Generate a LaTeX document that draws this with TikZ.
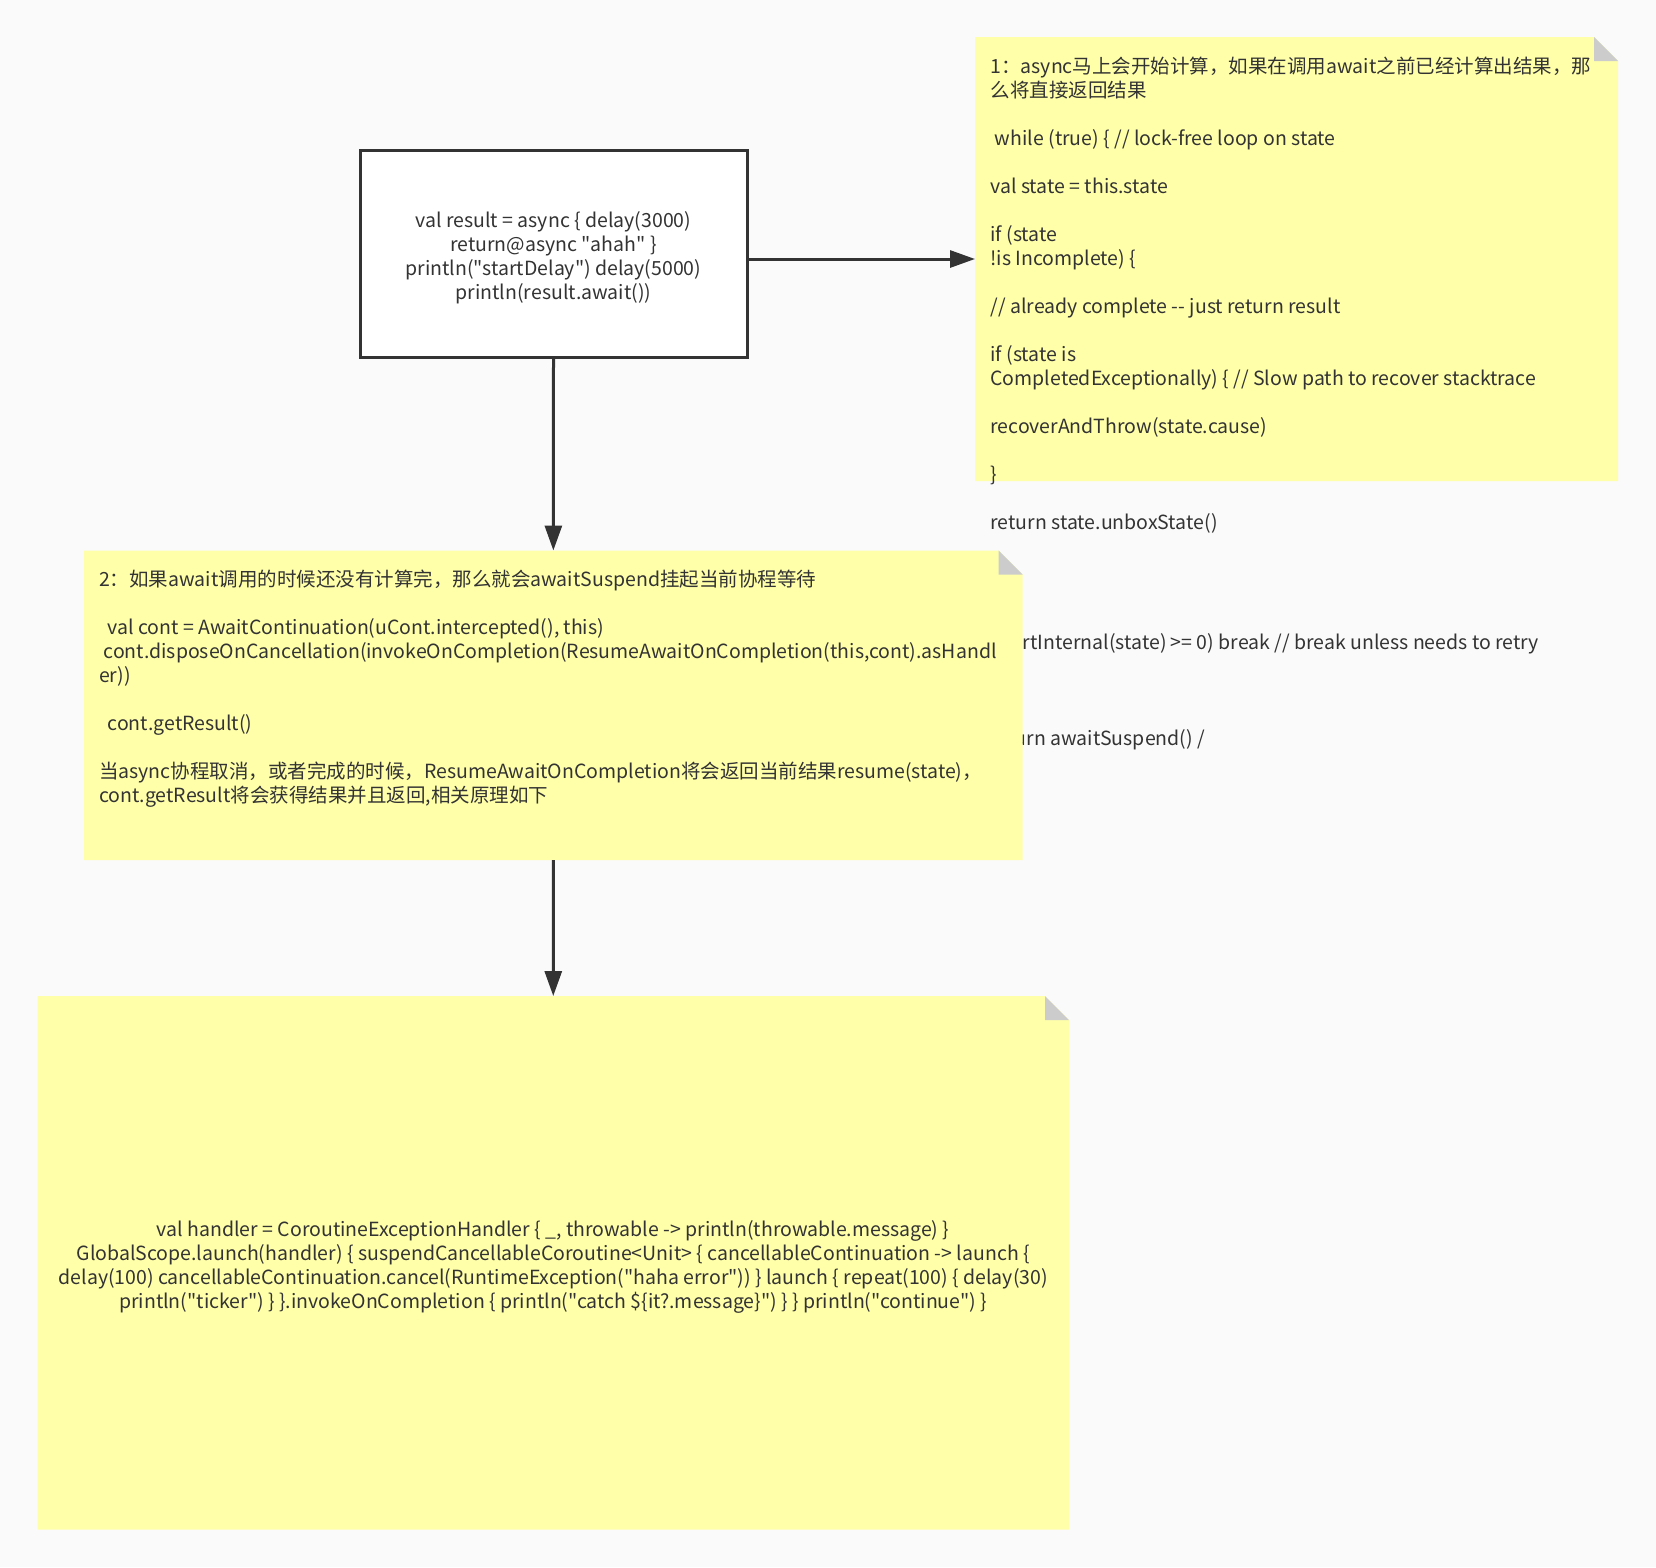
\documentclass[tikz,border=0pt]{standalone}
\usepackage{fontspec}
\newfontfamily\cnfont{Noto Sans CJK SC}
\usetikzlibrary{arrows.meta,fit}
\definecolor{bg}{HTML}{FAFAFA}
\definecolor{noteyellow}{HTML}{FFFFAA}
\definecolor{foldgray}{HTML}{CCCCCC}
\definecolor{ink}{HTML}{333333}
\begin{document}
\begin{tikzpicture}[x=1pt,y=-1pt,
  txt/.style={font=\cnfont\fontsize{19.5}{24}\selectfont, text=ink, inner sep=0pt, outer sep=0pt},
  area/.style={inner sep=0pt, outer sep=0pt},
  conn/.style={draw=ink, line width=3pt, -{Triangle[length=25pt,width=17pt]}},
  codebox/.style={draw=ink, fill=white, line width=3pt, inner sep=0pt, outer sep=0pt},
  notefill/.style={fill=noteyellow},
  foldfill/.style={fill=foldgray}]
% background / canvas
\path[fill=bg] (0,0) rectangle (1656,1567);

% areas
\node[codebox, fit={(360,150) (747,357)}] (box) {};
\node[area, fit={(975,37) (1618,481)}] (n1) {};
\node[area, fit={(84,550.5) (1022.7,860)}] (n2) {};
\node[area, fit={(37.5,996) (1069,1529.5)}] (n3) {};

% code box text
\node[txt, align=center] (boxtext) at ([yshift=-5.5pt]box.center)
  {\strut val result = async \{ delay(3000)\\
   \strut return@async "ahah" \}\\
   \strut println("startDelay") delay(5000)\\
   \strut println(result.await())};

% note 1
\fill[notefill] (n1.north west) -- ([xshift=-24pt]n1.north east) -- ([yshift=-24pt]n1.north east) -- (n1.south east) -- (n1.south west) -- cycle;
\fill[foldfill] ([xshift=-24pt]n1.north east) -- ([xshift=-24pt,yshift=-24pt]n1.north east) -- ([yshift=-24pt]n1.north east) -- cycle;
\node[txt, align=left, anchor=north west] (n1text) at (990.5,56.2)
  {\strut 1：async马上会开始计算，如果在调用await之前已经计算出结果，那\\
   \strut 么将直接返回结果\\
   \strut\\
   \strut\hspace*{4.4pt}while (true) \{ // lock-free loop on state\\
   \strut\\
   \strut val state = this.state\\
   \strut\\
   \strut if (state\\
   \strut !is Incomplete) \{\\
   \strut\\
   \strut // already complete -- just return result\\
   \strut\\
   \strut if (state is\\
   \strut CompletedExceptionally) \{ // Slow path to recover stacktrace\\
   \strut\\
   \strut recoverAndThrow(state.cause)\\
   \strut\\
   \strut \}\\
   \strut\\
   \strut return state.unboxState()};
\node[txt, anchor=base east] (n1tailA) at (1539,649)
  {if (startInternal(state) >= 0) break // break unless needs to retry};
\node[txt, anchor=base east] (n1tailB) at (1205,745)
  {return awaitSuspend() /};

% note 2
\fill[notefill] (n2.north west) -- ([xshift=-24pt]n2.north east) -- ([yshift=-24pt]n2.north east) -- (n2.south east) -- (n2.south west) -- cycle;
\fill[foldfill] ([xshift=-24pt]n2.north east) -- ([xshift=-24pt,yshift=-24pt]n2.north east) -- ([yshift=-24pt]n2.north east) -- cycle;
\node[txt, align=left, anchor=north west] (n2text) at (99.1,569.8)
  {\strut 2：如果await调用的时候还没有计算完，那么就会awaitSuspend挂起当前协程等待\\
   \strut\\
   \strut\hspace*{8.5pt}val cont = AwaitContinuation(uCont.intercepted(), this)\\
   \strut\hspace*{4.5pt}cont.disposeOnCancellation(invokeOnCompletion(ResumeAwaitOnCompletion(this,cont).asHandl\\
   \strut er))\\
   \strut\\
   \strut\hspace*{8.5pt}cont.getResult()\\
   \strut\\
   \strut 当async协程取消，或者完成的时候，ResumeAwaitOnCompletion将会返回当前结果resume(state)，\\
   \strut cont.getResult将会获得结果并且返回,相关原理如下};

% note 3
\fill[notefill] (n3.north west) -- ([xshift=-24pt]n3.north east) -- ([yshift=-24pt]n3.north east) -- (n3.south east) -- (n3.south west) -- cycle;
\fill[foldfill] ([xshift=-24pt]n3.north east) -- ([xshift=-24pt,yshift=-24pt]n3.north east) -- ([yshift=-24pt]n3.north east) -- cycle;
\node[txt, align=center] (n3text) at ([yshift=-4.5pt]n3.center)
  {\strut val handler = CoroutineExceptionHandler \{ \_, throwable -> println(throwable.message) \}\\
   \strut GlobalScope.launch(handler) \{ suspendCancellableCoroutine<Unit> \{ cancellableContinuation -> launch \{\\
   \strut delay(100) cancellableContinuation.cancel(RuntimeException("haha error")) \} launch \{ repeat(100) \{ delay(30)\\
   \strut println("ticker") \} \}.invokeOnCompletion \{ println("catch \$\{it?.message\}") \} \} println("continue") \}};

% connectors
\draw[conn] (box.east |- n1.west) -- (n1.west);
\draw[conn] (box.south) -- (n2.north);
\draw[conn] (n2.south) -- (n3.north);
\end{tikzpicture}
\end{document}
